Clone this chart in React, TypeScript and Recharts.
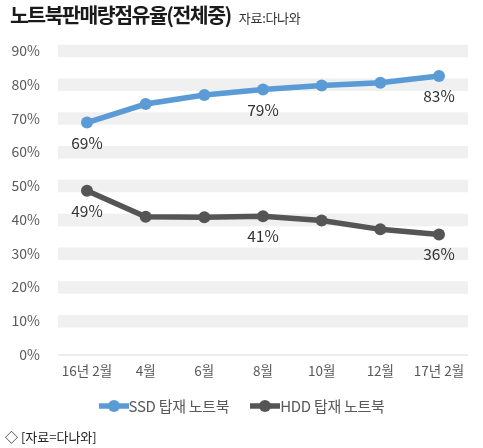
import { LineChart, Line, XAxis, YAxis, CartesianGrid, Legend, LabelList } from 'recharts';

const months = ['16년 2월', '4월', '6월', '8월', '10월', '12월', '17년 2월'];
const ssdShare = [68.8, 74.3, 77.0, 78.6, 79.8, 80.6, 82.6];
const hddShare = [48.6, 40.9, 40.8, 41.1, 39.8, 37.2, 35.7];
const yTicks = [0, 10, 20, 30, 40, 50, 60, 70, 80, 90];
const bandValues = [10, 20, 30, 40, 50, 60, 70, 80, 90];
const labeledPoints = [0, 3, 6];
const seriesOrder = ['ssd', 'hdd'];

const FONT = '"Noto Sans CJK KR", "Noto Sans", sans-serif';
const SSD_COLOR = '#5b9bd5';
const HDD_COLOR = '#555555';

const data = months.map((m, i) => ({ month: m, ssd: ssdShare[i], hdd: hddShare[i] }));

function PointLabel(props: any) {
  const { x, y, value, index } = props;
  if (!labeledPoints.includes(index)) return null;
  return (
    <text
      x={x}
      y={y + 19}
      textAnchor="middle"
      dominantBaseline="central"
      fontSize={15.5}
      fill="#333"
      fontFamily={FONT}
    >
      {Math.round(value)}%
    </text>
  );
}

function LegendRow({ payload }: any) {
  const items = [...(payload || [])].sort(
    (a: any, b: any) => seriesOrder.indexOf(a.dataKey) - seriesOrder.indexOf(b.dataKey)
  );
  return (
    <div style={{ display: 'flex', justifyContent: 'center', alignItems: 'center', fontFamily: FONT }}>
      {items.map((p: any, i: number) => (
        <div key={i} style={{ display: 'flex', alignItems: 'center', marginRight: i === 0 ? 21 : 0 }}>
          <svg width={30} height={14}>
            <line x1={0} y1={7} x2={30} y2={7} stroke={p.color} strokeWidth={5.5} />
            <circle cx={15} cy={7} r={6} fill={p.color} />
          </svg>
          <span style={{ fontSize: 15, color: '#595959', letterSpacing: -0.3 }}>{p.value}</span>
        </div>
      ))}
    </div>
  );
}

export default function App() {
  return (
    <div style={{ position: 'fixed', left: 0, top: 0, width: 483, height: 448, background: '#fff', fontFamily: FONT }}>
      <div style={{ position: 'absolute', left: 10, top: 2, lineHeight: '24px', display: 'flex', alignItems: 'baseline', whiteSpace: 'nowrap' }}>
        <span style={{ fontSize: 20.5, fontWeight: 700, color: '#1a1a1a', letterSpacing: -1.5 }}>노트북판매량점유율(전체중)</span>
        <span style={{ fontSize: 13, color: '#333', marginLeft: 8, letterSpacing: -0.3 }}>자료:다나와</span>
      </div>
      <LineChart width={483} height={448} data={data} margin={{ top: 51, right: 15, left: 0, bottom: 63 }}>
        <CartesianGrid vertical={false} horizontalValues={bandValues} stroke="#f0f0f0" strokeWidth={12.5} />
        <XAxis
          dataKey="month"
          padding={{ left: 29, right: 29 }}
          height={30}
          tickLine={false}
          tickSize={0}
          tickMargin={11}
          axisLine={{ stroke: '#d9d9d9' }}
          tick={{ fontSize: 13.5, fill: '#595959', fontFamily: FONT }}
        />
        <YAxis
          width={58}
          domain={[0, 90]}
          ticks={yTicks}
          tickFormatter={(v: number) => `${v}%`}
          axisLine={false}
          tickLine={false}
          tickSize={0}
          tickMargin={18}
          tick={{ fontSize: 14, fill: '#595959', fontFamily: FONT }}
        />
        <Legend
          verticalAlign="middle"
          content={<LegendRow />}
          wrapperStyle={{ left: 0, top: 395, width: 483 }}
        />
        <Line
          name="SSD 탑재 노트북"
          dataKey="ssd"
          stroke={SSD_COLOR}
          strokeWidth={5.5}
          dot={{ r: 6, fill: SSD_COLOR, stroke: 'none' }}
          isAnimationActive={false}
        >
          <LabelList dataKey="ssd" content={<PointLabel />} />
        </Line>
        <Line
          name="HDD 탑재 노트북"
          dataKey="hdd"
          stroke={HDD_COLOR}
          strokeWidth={5.5}
          dot={{ r: 6, fill: HDD_COLOR, stroke: 'none' }}
          isAnimationActive={false}
        >
          <LabelList dataKey="hdd" content={<PointLabel />} />
        </Line>
      </LineChart>
      <div style={{ position: 'absolute', left: 5, top: 427, fontSize: 13, color: '#222', whiteSpace: 'nowrap' }}>
        ◇ [자료=다나와]
      </div>
    </div>
  );
}
